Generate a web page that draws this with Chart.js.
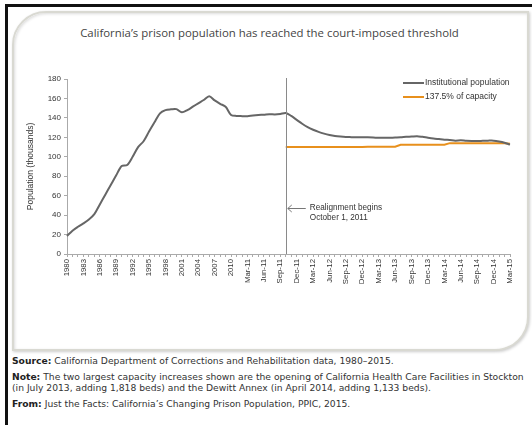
<!DOCTYPE html>
<html>
<head>
<meta charset="utf-8">
<script src="https://cdn.jsdelivr.net/npm/chart.js@4"></script>
<style>
  html, body { margin: 0; padding: 0; background: #fff; width: 532px; height: 425px; overflow: hidden; }
  .frame { position: absolute; left: 5px; top: 4px; width: 560px; height: 460px; border-left: 3px solid #111; border-top: 3px solid #111; }
  .panel { position: absolute; left: 12px; top: 11px; width: 513px; height: 336px; border: 2px solid #d9d9d2;
           border-radius: 34px 0 34px 0; box-shadow: inset 1px 1px 3px rgba(0,0,0,0.14), 1px 1px 3px rgba(0,0,0,0.2); background: #fff; }
  .title { position: absolute; left: 12px; width: 515px; top: 25px; text-align: center; font-family: "Open Sans", sans-serif;
           font-size: 11.4px; color: #444; white-space: nowrap; }
  #wrap { position: absolute; left: 12px; top: 60px; width: 512px; height: 285px; }
  .notes { position: absolute; left: 12px; top: 355px; width: 525px; font-family: "DejaVu Sans", Verdana, sans-serif; font-size: 9.2px; color: #333; white-space: nowrap; }
  .notes p { margin: 0 0 5px 0; line-height: 11px; }
  .notes b { color: #222; }
</style>
</head>
<body>
<div class="frame"></div>
<div class="panel"></div>
<div class="title">California’s prison population has reached the court-imposed threshold</div>
<div id="wrap"><canvas id="c"></canvas></div>
<div class="notes">
  <p><b>Source:</b> California Department of Corrections and Rehabilitation data, 1980–2015.</p>
  <p><b>Note:</b> The two largest capacity increases shown are the opening of California Health Care Facilities in Stockton<br>(in July 2013, adding 1,818 beds) and the Dewitt Annex (in April 2014, adding 1,133 beds).</p>
  <p><b>From:</b> Just the Facts: California’s Changing Prison Population, PPIC, 2015.</p>
</div>
<script>
const categories = [
  '1980','1981','1982','1983','1984','1985','1986','1987','1988','1989',
  '1990','1991','1992','1993','1994','1995','1996','1997','1998','1999',
  '2000','2001','2002','2003','2004','2005','2006','2007','2008','2009','2010',
  'Jan-11','Feb-11','Mar-11','Apr-11','May-11','Jun-11','Jul-11','Aug-11','Sep-11','Oct-11','Nov-11','Dec-11',
  'Jan-12','Feb-12','Mar-12','Apr-12','May-12','Jun-12','Jul-12','Aug-12','Sep-12','Oct-12','Nov-12','Dec-12',
  'Jan-13','Feb-13','Mar-13','Apr-13','May-13','Jun-13','Jul-13','Aug-13','Sep-13','Oct-13','Nov-13','Dec-13',
  'Jan-14','Feb-14','Mar-14','Apr-14','May-14','Jun-14','Jul-14','Aug-14','Sep-14','Oct-14','Nov-14','Dec-14',
  'Jan-15','Feb-15','Mar-15'
];
const institutionalPopulation = [
  18.5, 24, 28, 31.5, 35.5, 41, 51, 61, 71, 81,
  90.5, 91.5, 100, 110, 116, 126, 135.5, 144.7, 148, 148.8,
  149, 145.7, 148, 151.5, 155, 158.4, 162.3, 158, 154.5, 151.5, 143,
  142, 141.8, 141.8, 142.5, 143, 143.3, 143.8, 143.5, 144, 145, 142, 138,
  134, 130.5, 127.8, 125.6, 123.8, 122.4, 121.4, 120.8, 120.4, 120.2, 120, 120,
  120, 119.8, 119.5, 119.5, 119.6, 119.8, 120, 120.5, 120.8, 121.2, 120.5, 119.6,
  118.8, 118.2, 117.6, 117.2, 116.6, 116.9, 116.4, 116.2, 116.2, 116.4, 116.6, 116.6,
  115.8, 114.5, 112.5
];
const capacity137 = [
  null, null, null, null, null, null, null, null, null, null,
  null, null, null, null, null, null, null, null, null, null,
  null, null, null, null, null, null, null, null, null, null, null,
  null, null, null, null, null, null, null, null, null, 110, 110, 110,
  110, 110, 110, 110, 110, 110, 110, 110, 110, 110, 110, 110,
  110.3, 110.3, 110.3, 110.3, 110.3, 110.3, 112.3, 112.3, 112.3, 112.3, 112.3, 112.3,
  112.3, 112.3, 112.3, 114, 114, 114, 114, 114, 114, 114, 114, 114,
  114, 114, 113.3
];
const seriesNames = ['Institutional population', '137.5% of capacity'];
const yTicks = [0, 20, 40, 60, 80, 100, 120, 140, 160, 180];
const realignmentLabel = 'Oct-11';
const annotationLines = ['Realignment begins', 'October 1, 2011'];
const yAxisTitle = 'Population (thousands)';

const FONT = '"Liberation Sans", Arial, sans-serif';

const overlay = {
  id: 'overlay',
  afterDatasetsDraw(chart) {
    const { ctx, chartArea, scales } = chart;
    const xs = scales.x;
    ctx.save();
    const xi = xs.getPixelForValue(categories.indexOf(realignmentLabel));
    ctx.strokeStyle = '#8a8a8a';
    ctx.lineWidth = 1;
    ctx.beginPath();
    ctx.moveTo(Math.round(xi) + 0.5, chartArea.top - 1);
    ctx.lineTo(Math.round(xi) + 0.5, chartArea.bottom);
    ctx.stroke();
    const ay = chartArea.top + 129;
    ctx.strokeStyle = '#777';
    ctx.beginPath();
    ctx.moveTo(xi + 2, ay + 0.5);
    ctx.lineTo(xi + 20, ay + 0.5);
    ctx.moveTo(xi + 6, ay - 3);
    ctx.lineTo(xi + 2, ay + 0.5);
    ctx.lineTo(xi + 6, ay + 4);
    ctx.stroke();
    ctx.fillStyle = '#333';
    ctx.font = '8.2px ' + FONT;
    ctx.textBaseline = 'middle';
    ctx.textAlign = 'left';
    ctx.fillText(annotationLines[0], xi + 24, ay);
    ctx.fillText(annotationLines[1], xi + 24, ay + 10);
    ctx.font = '8.5px ' + FONT;
    const lx = chartArea.right - 107;
    chart.data.datasets.forEach((ds, i) => {
      const ly = chartArea.top + 4 + i * 14;
      ctx.strokeStyle = ds.borderColor;
      ctx.lineWidth = 2;
      ctx.beginPath();
      ctx.moveTo(lx, ly);
      ctx.lineTo(lx + 21, ly);
      ctx.stroke();
      ctx.fillStyle = '#333';
      ctx.fillText(ds.label, lx + 22, ly);
    });
    ctx.restore();
  }
};

new Chart(document.getElementById('c'), {
  type: 'line',
  data: {
    labels: categories,
    datasets: [
      { label: seriesNames[0], data: institutionalPopulation, borderColor: '#666666', borderWidth: 2, pointRadius: 0, tension: 0.3, fill: false },
      { label: seriesNames[1], data: capacity137, borderColor: '#e8901c', borderWidth: 2, pointRadius: 0, tension: 0, fill: false, spanGaps: false }
    ]
  },
  options: {
    responsive: true,
    maintainAspectRatio: false,
    animation: false,
    events: [],
    layout: { padding: { top: 19, right: 14, left: 14, bottom: 0 } },
    plugins: { legend: { display: false }, tooltip: { enabled: false } },
    scales: {
      x: {
        type: 'category',
        offset: false,
        grid: { display: true, drawOnChartArea: false, drawTicks: true, tickLength: 3, color: '#aaa' },
        border: { color: '#aaa' },
        ticks: {
          autoSkip: false, maxRotation: 90, minRotation: 90, padding: 2,
          color: '#333', font: { family: FONT, size: 7.8 },
          callback: (v, i) => (i % 3 === 0 ? categories[i] : '')
        },
        afterFit(s) { s.height = 91; }
      },
      y: {
        min: 0, max: 180,
        afterBuildTicks(s) { s.ticks = yTicks.map(v => ({ value: v })); },
        grid: { display: true, drawOnChartArea: false, drawTicks: true, tickLength: 3, color: '#aaa' },
        border: { color: '#aaa' },
        ticks: { color: '#333', padding: 3, font: { family: FONT, size: 8 } },
        title: { display: true, text: yAxisTitle, color: '#333', font: { family: FONT, size: 8.5 }, padding: { top: 0, bottom: 0 } },
        afterFit(s) { s.width = 41; }
      }
    }
  },
  plugins: [overlay]
});
</script>
</body>
</html>
